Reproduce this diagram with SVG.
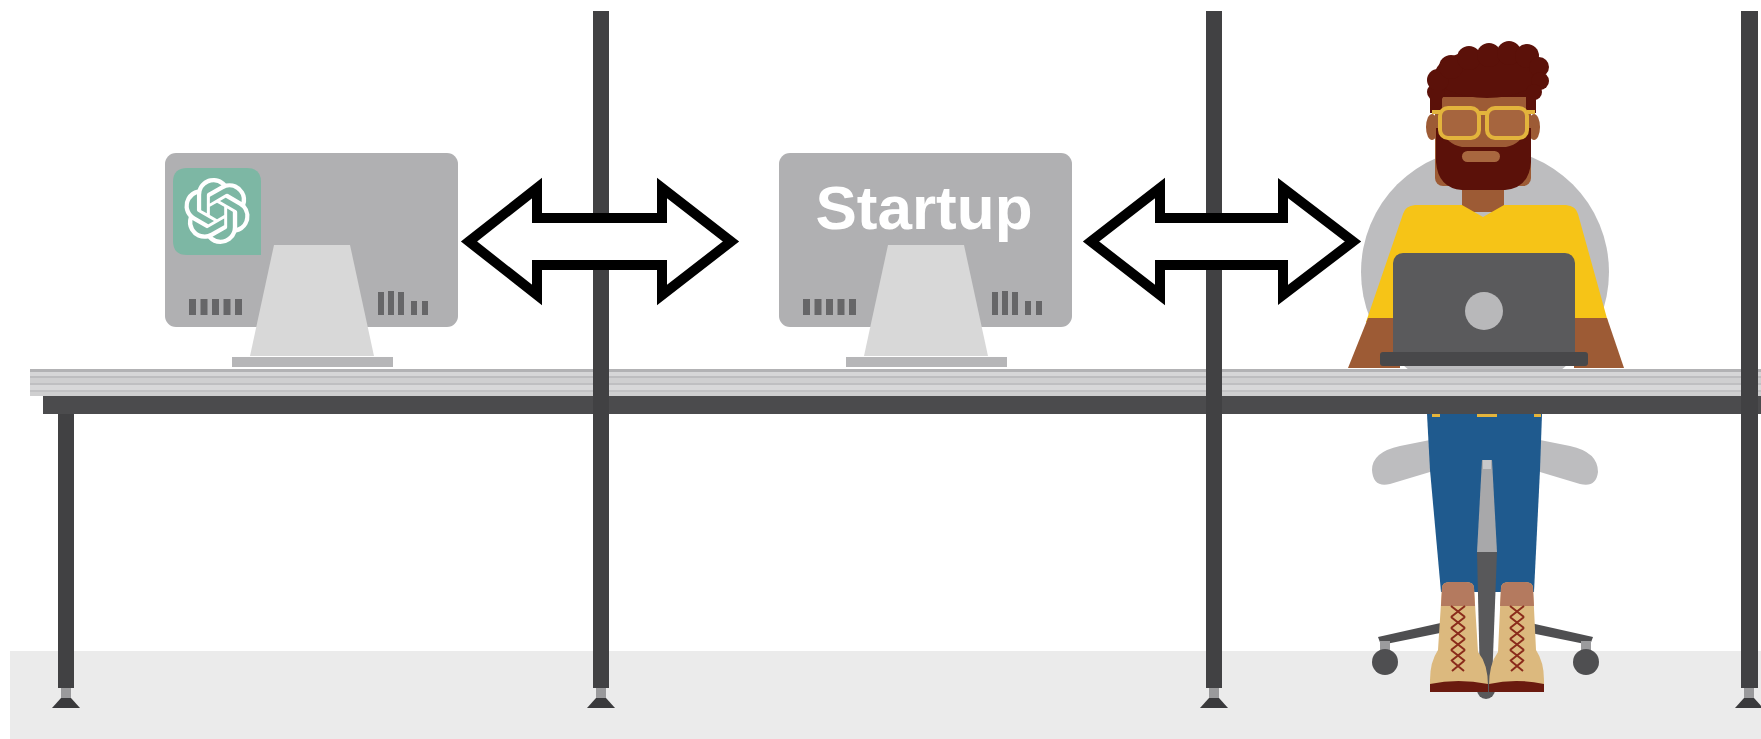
<svg xmlns="http://www.w3.org/2000/svg" xmlns:xlink="http://www.w3.org/1999/xlink" width="1761" height="739" viewBox="0 0 1761 739">
  <style>
    .post { fill: #414143; }
    .foot { fill: #3a3a3c; }
    .footneck { fill: #9a9a9c; }
    .screen { fill: #b0b0b2; }
    .stand { fill: #d8d8d8; }
    .standbase { fill: #b6b6b8; }
    .vent { fill: #666668; }
    .arrow { fill: #ffffff; stroke: #000000; stroke-width: 10; stroke-linejoin: miter; stroke-miterlimit: 10; }
    .label { font-family: "Liberation Sans", Arial, Helvetica, sans-serif; font-weight: bold; font-size: 62px; fill: #ffffff; }
    .hair { fill: #5b1109; }
    .skin { fill: #9d5b35; }
    .lace { stroke: #8a2b1b; stroke-width: 2; fill: none; }
  </style>
  <defs>
    <!-- desktop monitor seen from behind, origin at the top-left of the case -->
    <g id="monitor">
      <rect class="screen" x="0" y="0" width="293" height="174" rx="11"/>
      <polygon class="stand" points="109,92 185,92 209,203 85,203"/>
      <rect class="standbase" x="67" y="204" width="161" height="10"/>
      <rect class="vent" x="24" y="146" width="7" height="16"/>
      <rect class="vent" x="35.5" y="146" width="7" height="16"/>
      <rect class="vent" x="47" y="146" width="7" height="16"/>
      <rect class="vent" x="58.5" y="146" width="7" height="16"/>
      <rect class="vent" x="70" y="146" width="7" height="16"/>
      <rect class="vent" x="213" y="139" width="6" height="23"/>
      <rect class="vent" x="223" y="138" width="6" height="24"/>
      <rect class="vent" x="233" y="139" width="6" height="23"/>
      <rect class="vent" x="246" y="148" width="6" height="14"/>
      <rect class="vent" x="257" y="148" width="6" height="14"/>
    </g>
    <!-- leveling foot under a leg, centred on x=0 -->
    <g id="legfoot">
      <rect class="footneck" x="-5" y="688" width="10" height="10"/>
      <polygon class="foot" points="-5,698 5,698 14,708 -14,708"/>
    </g>
  </defs>

  <!-- room -->
  <g id="room">
    <rect x="0" y="0" width="1761" height="739" fill="#ffffff"/>
    <rect x="10" y="651" width="1751" height="88" fill="#ebebeb"/>
  </g>

  <!-- end user at the laptop (drawn before the desk so the desk hides the chair back) -->
  <g id="user">
    <!-- chair back -->
    <circle cx="1485" cy="272" r="124" fill="#bdbdbf"/>
    <!-- head -->
    <ellipse class="skin" cx="1432" cy="127" rx="6" ry="13"/>
    <ellipse class="skin" cx="1534" cy="127" rx="6" ry="13"/>
    <rect class="skin" x="1462" y="180" width="42" height="32"/>
    <rect class="skin" x="1435" y="92" width="96" height="94" rx="8"/>
    <g class="hair">
      <rect x="1430" y="80" width="106" height="17"/>
      <ellipse cx="1487" cy="74" rx="52" ry="24"/>
      <circle cx="1436" cy="92" r="9"/>
      <circle cx="1438" cy="80" r="11"/>
      <circle cx="1451" cy="67" r="12"/>
      <circle cx="1469" cy="58" r="12"/>
      <circle cx="1489" cy="55" r="12"/>
      <circle cx="1509" cy="53" r="12"/>
      <circle cx="1527" cy="56" r="12"/>
      <circle cx="1539" cy="67" r="10"/>
      <circle cx="1540" cy="81" r="9"/>
      <circle cx="1534" cy="92" r="8"/>
      <rect x="1430" y="90" width="12" height="23"/>
      <rect x="1526" y="90" width="10" height="23"/>
      <path d="M1436,128 L1441,128 Q1446,144 1462,147 L1506,147 Q1522,144 1526,128 L1531,128 L1531,162 Q1529,188 1505,190 L1462,190 Q1438,188 1436,162 Z"/>
    </g>
    <rect x="1462" y="151" width="38" height="11" rx="5.5" fill="#a8673f"/>
    <g fill="#a6653e" stroke="#e3b43c" stroke-width="4">
      <rect x="1440" y="108" width="39" height="30" rx="8"/>
      <rect x="1487" y="108" width="40" height="30" rx="8"/>
      <path d="M1479,113 L1487,113 M1440,112 L1432,112 M1527,112 L1535,112" fill="none"/>
    </g>
    <!-- shirt and arms -->
    <path d="M1403,214 Q1405,206 1415,205 L1462,205 L1483,217 L1504,205 L1566,205 Q1576,206 1578,214 L1608,322 L1366,322 Z" fill="#f6c417"/>
    <polygon class="skin" points="1368,318 1400,318 1400,368 1348,368"/>
    <polygon class="skin" points="1574,318 1607,318 1624,368 1574,368"/>
    <!-- laptop -->
    <rect x="1393" y="253" width="182" height="110" rx="10" fill="#5a5a5c"/>
    <circle cx="1484" cy="311" r="19" fill="#b8b8ba"/>
    <rect x="1380" y="352" width="208" height="14" rx="3" fill="#48484a"/>
    <!-- under the desk: seat, legs and chair base -->
    <path d="M1372,470 Q1372,452 1400,446 L1430,440 L1540,440 L1570,446 Q1598,452 1598,472 Q1596,488 1580,484 L1540,472 L1430,472 L1390,484 Q1373,488 1372,470 Z" fill="#bdbdbf"/>
    <path d="M1427,414 L1542,414 L1540,470 L1534,592 L1441,592 L1430,470 Z" fill="#1f5a8e"/>
    <rect x="1432" y="414" width="8" height="3" fill="#e3b43c"/>
    <rect x="1477" y="414" width="20" height="3" fill="#e3b43c"/>
    <rect x="1534" y="414" width="7" height="3" fill="#e3b43c"/>
    <polygon points="1482,460 1492,460 1497,552 1477,552" fill="#a8a8aa"/>
    <rect x="1483" y="460" width="8" height="9" fill="#c8c8ca"/>
    <polygon points="1477,552 1497,552 1492,682 1480,682" fill="#58585a"/>
    <circle cx="1486" cy="690" r="9" fill="#58585a"/>
    <polygon points="1378,637 1445,622 1445,632 1381,645" fill="#4f4f51"/>
    <polygon points="1526,622 1593,637 1590,645 1526,632" fill="#4f4f51"/>
    <rect x="1380" y="641" width="10" height="10" fill="#9b9b9d"/>
    <rect x="1581" y="641" width="10" height="10" fill="#9b9b9d"/>
    <circle cx="1385" cy="662" r="13" fill="#4f4f51"/>
    <circle cx="1586" cy="662" r="13" fill="#4f4f51"/>
    <!-- boots -->
    <path d="M1442,588 Q1442,582 1450,582 L1466,582 Q1474,582 1474,588 L1478,652 Q1488,664 1488,686 L1488,692 L1430,692 L1430,680 Q1430,662 1438,650 Z" fill="#dcb97e"/>
    <path d="M1442,588 Q1442,582 1450,582 L1466,582 Q1474,582 1474,588 L1475,606 L1441,606 Z" fill="#b47a5f"/>
    <path d="M1430,684 Q1458,678 1488,684 L1488,692 L1430,692 Z" fill="#6a1a0f"/>
    <path class="lace" d="M1451,606 L1465,617 M1465,606 L1451,617 M1451,617 L1465,628 M1465,617 L1451,628 M1451,628 L1465,639 M1465,628 L1451,639 M1451,639 L1465,650 M1465,639 L1451,650 M1451,650 L1465,661 M1465,650 L1451,661 M1452,661 L1464,671 M1464,661 L1452,671"/>
    <path d="M1501,588 Q1501,582 1509,582 L1525,582 Q1533,582 1533,588 L1536,650 Q1544,662 1544,680 L1544,692 L1489,692 L1489,686 Q1489,664 1498,652 Z" fill="#dcb97e"/>
    <path d="M1501,588 Q1501,582 1509,582 L1525,582 Q1533,582 1533,588 L1534,606 L1500,606 Z" fill="#b47a5f"/>
    <path d="M1489,684 Q1516,678 1544,684 L1544,692 L1489,692 Z" fill="#6a1a0f"/>
    <path class="lace" d="M1510,606 L1524,617 M1524,606 L1510,617 M1510,617 L1524,628 M1524,617 L1510,628 M1510,628 L1524,639 M1524,628 L1510,639 M1510,639 L1524,650 M1524,639 L1510,650 M1510,650 L1524,661 M1524,650 L1510,661 M1511,661 L1523,671 M1523,661 L1511,671"/>
  </g>

  <!-- long shared desk -->
  <g id="desk">
    <rect x="30" y="369" width="1731" height="27" fill="#cfcfd0"/>
    <rect x="30" y="369" width="1731" height="3" fill="#b2b2b4"/>
    <rect x="30" y="376" width="1731" height="2" fill="#bdbdbf"/>
    <rect x="30" y="383" width="1731" height="2" fill="#bfbfc1"/>
    <rect x="30" y="390" width="1731" height="2" fill="#c2c2c4"/>
    <rect x="30" y="372" width="1731" height="4" fill="#d6d6d7"/>
    <rect x="30" y="385" width="1731" height="5" fill="#d8d8d9"/>
    <rect x="43" y="396" width="1718" height="18" fill="#4b4b4d"/>
    <rect class="post" x="58" y="414" width="16" height="274"/>
    <use xlink:href="#legfoot" href="#legfoot" x="66"/>
  </g>

  <!-- cubicle partition posts -->
  <g id="posts">
    <rect class="post" x="593" y="11" width="16" height="677"/>
    <use xlink:href="#legfoot" href="#legfoot" x="601"/>
    <rect class="post" x="1206" y="11" width="16" height="677"/>
    <use xlink:href="#legfoot" href="#legfoot" x="1214"/>
    <rect class="post" x="1741" y="11" width="17" height="677"/>
    <use xlink:href="#legfoot" href="#legfoot" x="1749"/>
  </g>

  <!-- computer running the OpenAI model -->
  <g id="openai-computer">
    <use xlink:href="#monitor" href="#monitor" x="165" y="153"/>
    <path d="M187,168 H247 Q261,168 261,182 V255 H187 Q173,255 173,241 V182 Q173,168 187,168 Z" fill="#7db7a4"/>
    <path fill="#ffffff" transform="translate(217,211) scale(2.75) translate(-12,-12)" d="M22.2819 9.8211a5.9847 5.9847 0 0 0-.5157-4.9108 6.0462 6.0462 0 0 0-6.5098-2.9A6.0651 6.0651 0 0 0 4.9807 4.1818a5.9847 5.9847 0 0 0-3.9977 2.9 6.0462 6.0462 0 0 0 .7427 7.0966 5.98 5.98 0 0 0 .511 4.9107 6.051 6.051 0 0 0 6.5146 2.9001A5.9847 5.9847 0 0 0 13.2599 24a6.0557 6.0557 0 0 0 5.7718-4.2058 5.9894 5.9894 0 0 0 3.9977-2.9001 6.0557 6.0557 0 0 0-.7475-7.0729zm-9.022 12.6081a4.4755 4.4755 0 0 1-2.8764-1.0408l.1419-.0804 4.7783-2.7582a.7948.7948 0 0 0 .3927-.6813v-6.7369l2.02 1.1686a.071.071 0 0 1 .038.052v5.5826a4.504 4.504 0 0 1-4.4945 4.4944zm-9.6607-4.1254a4.4708 4.4708 0 0 1-.5346-3.0137l.142.0852 4.783 2.7582a.7712.7712 0 0 0 .7806 0l5.8428-3.3685v2.3324a.0804.0804 0 0 1-.0332.0615L9.74 19.9502a4.4992 4.4992 0 0 1-6.1408-1.6464zM2.3408 7.8956a4.485 4.485 0 0 1 2.3655-1.9728V11.6a.7664.7664 0 0 0 .3879.6765l5.8144 3.3543-2.0201 1.1685a.0757.0757 0 0 1-.071 0l-4.8303-2.7865A4.504 4.504 0 0 1 2.3408 7.872zm16.5963 3.8558L13.1038 8.364 15.1192 7.2a.0757.0757 0 0 1 .071 0l4.8303 2.7913a4.4944 4.4944 0 0 1-.6765 8.1042v-5.6772a.79.79 0 0 0-.407-.667zm2.0107-3.0231l-.142-.0852-4.7735-2.7818a.7759.7759 0 0 0-.7854 0L9.409 9.2297V6.8974a.0662.0662 0 0 1 .0284-.0615l4.8303-2.7866a4.4992 4.4992 0 0 1 6.6802 4.66zM8.3065 12.863l-2.02-1.1638a.0804.0804 0 0 1-.038-.0567V6.0742a4.4992 4.4992 0 0 1 7.3757-3.4537l-.142.0805L8.704 5.459a.7948.7948 0 0 0-.3927.6813zm1.0976-2.3654l2.602-1.4998 2.6069 1.4998v2.9994l-2.5974 1.4997-2.6067-1.4997Z"/>
  </g>

  <!-- the startup's computer -->
  <g id="startup-computer">
    <use xlink:href="#monitor" href="#monitor" x="779" y="153"/>
    <text class="label" x="924" y="229" text-anchor="middle">Startup</text>
  </g>

  <!-- two-way links between the computers and the user -->
  <g id="connectors">
    <polygon class="arrow" points="469,241.5 537,188 537,218 662,218 662,188 731,241.5 662,295 662,265 537,265 537,295"/>
    <polygon class="arrow" points="1091,241.5 1160,188 1160,218 1283,218 1283,188 1353,241.5 1283,295 1283,265 1160,265 1160,295"/>
  </g>
</svg>
